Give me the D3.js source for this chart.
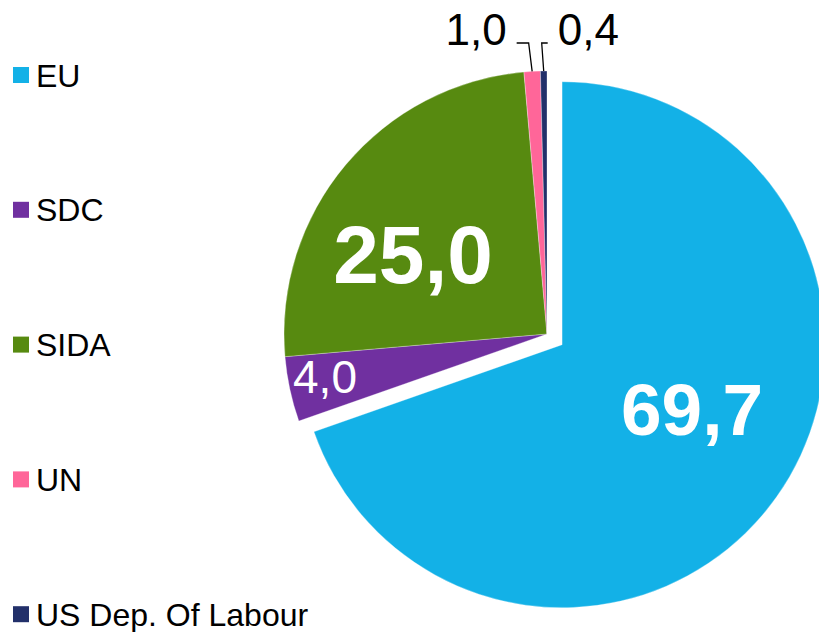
<!DOCTYPE html>
<html>
<head>
<meta charset="utf-8">
<script src="https://cdn.jsdelivr.net/npm/d3@7"></script>
<style>
  html, body { margin: 0; padding: 0; background: #fff; }
  svg { display: block; }
  text { font-family: "Liberation Sans", Arial, sans-serif; }
</style>
</head>
<body>
<svg id="chart" width="819" height="632"></svg>
<script>
const categories = ["EU", "SDC", "SIDA", "UN", "US Dep. Of Labour"];
const values = [69.7, 4.0, 25.0, 1.0, 0.4];
const valueLabels = ["69,7", "4,0", "25,0", "1,0", "0,4"];
const colors = ["#13B1E7", "#7030A0", "#578A10", "#FF6699", "#22306A"];

const W = 819, H = 632;
const cx = 547, cy = 334, R = 263;
const explode = 18.5;

const svg = d3.select("#chart");
const data = categories.map((c, i) => ({ name: c, value: values[i], label: valueLabels[i], color: colors[i], idx: i }));

const pie = d3.pie().sort(null).value(d => d.value).startAngle(0).endAngle(2 * Math.PI);
const arcs = pie(data);
const arc = d3.arc().innerRadius(0).outerRadius(R);

const g = svg.append("g").attr("transform", `translate(${cx},${cy})`);

function offsetOf(a) {
  if (a.data.idx !== 0) return [0, 0];
  const m = (a.startAngle + a.endAngle) / 2;
  return [explode * Math.sin(m), -explode * Math.cos(m)];
}

g.selectAll("path.slice").data(arcs).enter().append("path")
  .attr("class", "slice")
  .attr("d", arc)
  .attr("fill", d => d.data.color)
  .attr("stroke", "#ffffff")
  .attr("stroke-width", 0.6)
  .attr("stroke-opacity", 0.5)
  .attr("transform", d => { const o = offsetOf(d); return `translate(${o[0]},${o[1]})`; });

// Inside labels
const inside = {
  0: { dx: 145, dy: 101, size: 73, weight: "bold" },
  2: { dx: -134, dy: -51, size: 82, weight: "bold" },
  1: { dx: -222, dy: 59, size: 46, weight: "normal" }
};
arcs.forEach(a => {
  const p = inside[a.data.idx];
  if (!p) return;
  g.append("text")
    .attr("x", p.dx)
    .attr("y", p.dy)
    .attr("text-anchor", "middle")
    .attr("fill", "#ffffff")
    .attr("font-size", p.size)
    .attr("font-weight", p.weight)
    .text(a.data.label);
});

// Outside labels with leader lines (UN, US)
const outside = {
  3: { side: -1, elbow: -3.5, labelGap: 22 },
  4: { side: 1, elbow: -2, labelGap: 16 }
};
const labelY = 43 - cy;
arcs.forEach(a => {
  const p = outside[a.data.idx];
  if (!p) return;
  const m = (a.startAngle + a.endAngle) / 2;
  const px = R * Math.sin(m), py = -R * Math.cos(m);
  const ex = px + p.elbow;
  const lx = ex + p.side * (p.labelGap - 10);
  g.append("path")
    .attr("d", `M${lx},${labelY} H${ex} L${px},${py}`)
    .attr("fill", "none")
    .attr("stroke", "#000")
    .attr("stroke-width", 1.3);
  g.append("text")
    .attr("x", lx + p.side * 10)
    .attr("y", labelY + 1.5)
    .attr("text-anchor", p.side < 0 ? "end" : "start")
    .attr("fill", "#000")
    .attr("font-size", 44)
    .text(a.data.label);
});

// Legend
const leg = svg.append("g");
const step = 134.8;
data.forEach((d, i) => {
  const y0 = 67 + i * step;
  leg.append("rect").attr("x", 13).attr("y", y0).attr("width", 16).attr("height", 16).attr("fill", d.color);
  leg.append("text").attr("x", 36).attr("y", y0 + 19.5).attr("font-size", 32).attr("fill", "#000").text(d.name);
});
</script>
</body>
</html>
